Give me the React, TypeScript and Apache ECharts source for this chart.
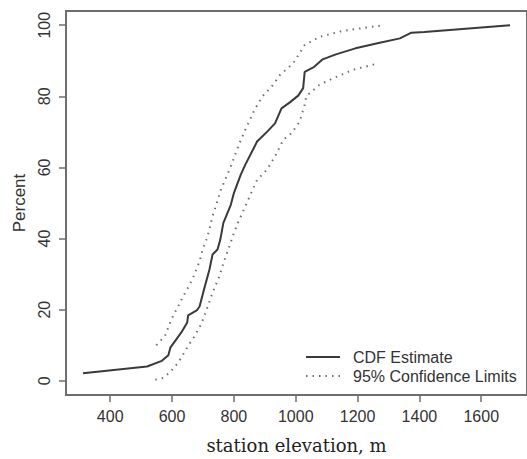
import { useEffect, useRef } from "react";
import * as echarts from "echarts";

// CDF estimate (station elevation in m, cumulative percent)
const cdfElev = [312, 519, 567, 588, 595, 630, 649, 652, 681, 689, 705, 721, 731, 747, 756, 766, 790, 800, 822, 837, 864, 875, 907, 933, 954, 981, 1008, 1024, 1029, 1060, 1087, 1130, 1193, 1268, 1337, 1374, 1416, 1693];
const cdfPct = [2.1, 4.0, 5.6, 7.2, 9.4, 13.6, 16.4, 18.4, 19.9, 20.9, 26.2, 31.3, 35.5, 36.9, 39.7, 44.4, 49.5, 52.8, 57.9, 60.8, 65.4, 67.3, 70.0, 72.4, 76.6, 78.3, 80.2, 82.3, 86.9, 88.3, 90.4, 91.8, 93.5, 95.0, 96.3, 97.9, 98.1, 100];

// Upper 95% confidence limit
const upperElev = [549, 577, 598, 620, 636, 652, 668, 689, 699, 715, 731, 758, 790, 816, 837, 864, 891, 922, 949, 992, 1029, 1076, 1151, 1283];
const upperPct = [10.0, 12.6, 17.3, 21.0, 23.8, 26.2, 29.0, 33.6, 36.9, 40.6, 46.3, 53.7, 60.3, 66.4, 70.6, 75.7, 79.9, 82.7, 86.0, 89.3, 94.4, 96.7, 98.4, 100];

// Lower 95% confidence limit
const lowerElev = [546, 572, 593, 620, 652, 673, 694, 710, 731, 753, 768, 784, 800, 811, 837, 875, 907, 933, 960, 986, 1013, 1029, 1034, 1076, 1119, 1183, 1268];
const lowerPct = [0.3, 0.8, 2.4, 5.1, 9.8, 12.6, 15.9, 19.6, 24.8, 29.4, 33.6, 37.4, 41.6, 44.0, 49.1, 56.5, 59.4, 63.1, 67.8, 69.6, 72.9, 77.6, 80.0, 83.2, 85.0, 87.4, 89.3];

const xTicks = [400, 600, 800, 1000, 1200, 1400, 1600];
const yTicks = [0, 20, 40, 60, 80, 100];

const seriesNames = ["CDF Estimate", "95% Confidence Limits"];
const xTitle = "station elevation, m";
const yTitle = "Percent";

export default function App() {
  const ref = useRef<HTMLDivElement>(null);
  useEffect(() => {
    const chart = echarts.init(ref.current!, null, { renderer: "svg" });
    const sans = "'Liberation Sans', Arial, sans-serif";
    const axisColor = "#6e6e6e";
    const solidColor = "#3a3a3a";
    const dotColor = "#707070";
    const pairs = (xs: number[], ys: number[]) => xs.map((x, i) => [x, ys[i]]);
    chart.setOption({
      animation: false,
      backgroundColor: "#ffffff",
      grid: {
        left: 66,
        top: 11,
        right: -7,
        bottom: 63,
        show: true,
        borderColor: axisColor,
        borderWidth: 2,
        backgroundColor: "transparent",
      },
      xAxis: {
        type: "value",
        min: 257,
        max: 1748,
        name: xTitle,
        nameLocation: "middle",
        nameGap: 41,
        nameTextStyle: { fontFamily: "'DejaVu Serif', serif", fontSize: 18, color: "#222" },
        axisLine: { show: true, onZero: false, lineStyle: { color: axisColor, width: 2 } },
        axisTick: { show: true, customValues: xTicks, length: 7, lineStyle: { color: axisColor, width: 1.5 } },
        axisLabel: {
          customValues: xTicks,
          margin: 13,
          fontSize: 16,
          fontFamily: sans,
          color: "#333",
          formatter: (v: number) => String(v),
        },
        splitLine: { show: false },
      },
      yAxis: {
        type: "value",
        min: -4,
        max: 104,
        name: yTitle,
        nameLocation: "middle",
        nameRotate: 90,
        nameGap: 37,
        nameTextStyle: { fontFamily: sans, fontSize: 17, color: "#333" },
        axisLine: { show: true, onZero: false, lineStyle: { color: axisColor, width: 2 } },
        axisTick: { show: true, customValues: yTicks, length: 7, lineStyle: { color: axisColor, width: 1.5 } },
        axisLabel: {
          customValues: yTicks,
          rotate: 90,
          margin: 14,
          fontSize: 16,
          fontFamily: sans,
          color: "#333",
          formatter: (v: number) => String(v),
        },
        splitLine: { show: false },
      },
      legend: {
        orient: "vertical",
        left: 300,
        top: 344,
        itemWidth: 34,
        itemHeight: 14,
        itemGap: 3,
        selectedMode: false,
        data: seriesNames,
        itemStyle: { opacity: 0 },
        textStyle: { fontSize: 16, fontFamily: sans, color: "#333", padding: [0, 0, 0, 8] },
      },
      series: [
        {
          name: seriesNames[0],
          type: "line",
          data: pairs(cdfElev, cdfPct),
          symbol: "none",
          showSymbol: false,
          silent: true,
          itemStyle: { color: solidColor },
          lineStyle: { color: solidColor, width: 2 },
          z: 3,
        },
        {
          name: seriesNames[1],
          type: "line",
          data: pairs(upperElev, upperPct),
          symbol: "none",
          showSymbol: false,
          silent: true,
          itemStyle: { color: dotColor },
          lineStyle: { color: dotColor, width: 2, type: [1.5, 5] },
          z: 2,
        },
        {
          name: seriesNames[1],
          type: "line",
          data: pairs(lowerElev, lowerPct),
          symbol: "none",
          showSymbol: false,
          silent: true,
          itemStyle: { color: dotColor },
          lineStyle: { color: dotColor, width: 2, type: [1.5, 5] },
          z: 2,
        },
      ],
    });
    return () => chart.dispose();
  }, []);
  return <div ref={ref} style={{ position: "absolute", left: 0, top: 0, width: 527, height: 459 }} />;
}
